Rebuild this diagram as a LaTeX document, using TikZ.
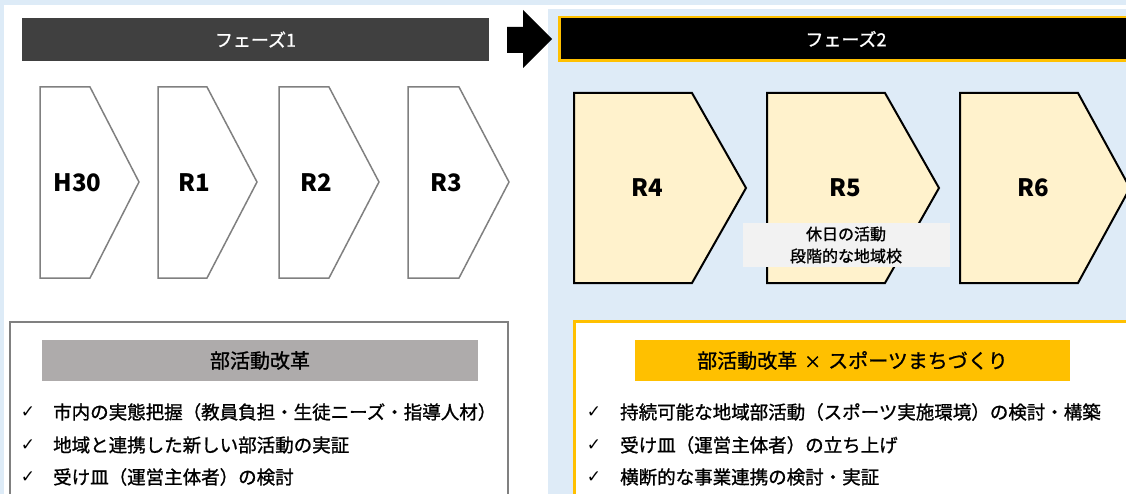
\documentclass[tikz,border=0pt]{standalone}
\usepackage{fontspec}
\setmainfont{Noto Sans CJK JP}
\newfontfamily\medfont[FakeBold=1.1]{Noto Sans CJK JP}
\newfontfamily\symfont{DejaVu Sans}
\definecolor{bgblue}{HTML}{DDEBF7}
\definecolor{panelblue}{HTML}{DEEBF7}
\definecolor{darkbar}{HTML}{404040}
\definecolor{gold}{HTML}{FFC000}
\definecolor{chevgray}{HTML}{808080}
\definecolor{cream}{HTML}{FFF2CC}
\definecolor{notegray}{HTML}{F2F2F2}
\definecolor{hdrgray}{HTML}{AEABAB}
\tikzset{
  phasebar/.style={text=white, inner sep=0pt, font=\medfont\fontsize{18}{18}\selectfont},
  chevL/.style={draw=chevgray, line width=1.5pt, fill=white, line join=miter},
  chevR/.style={draw=black, line width=2pt, fill=cream, line join=miter},
  yearlbl/.style={font=\bfseries\fontsize{24}{24}\selectfont, inner sep=0pt},
  notebox/.style={fill=notegray, inner sep=0pt, align=center, font=\medfont\fontsize{16}{22}\selectfont},
  hdr/.style={inner sep=0pt, font=\medfont\fontsize{20}{20}\selectfont},
  chk/.style={anchor=center, inner sep=0pt, font=\symfont\fontsize{17}{17}\selectfont},
  bul/.style={anchor=west, inner sep=0pt, font=\medfont\fontsize{18.5}{18.5}\selectfont}
}
\begin{document}
\begin{tikzpicture}[x=1pt,y=-1pt]
\useasboundingbox (0,0) rectangle (1126,494);
\begin{scope}
\clip (0,0) rectangle (1126,494);
% backgrounds
\fill[bgblue] (0,0) rectangle (1126,494);
\fill[white] (4,5) rectangle (1126,494);
\fill[panelblue] (548,9) rectangle (1126,494);
% phase bars
\node[phasebar, fill=darkbar, minimum width=467pt, minimum height=43pt] (ph1) at (255.5,39.5) {フェーズ1};
\draw[gold, line width=2.5pt, fill=black] (559.25,17.25) rectangle (1140,60.75);
\node[phasebar] (ph2) at (846,39) {フェーズ2};
% big arrow
\fill[black] (507,27) -- (523,27) -- (523,10) -- (552,39) -- (523,68) -- (523,53) -- (507,53) -- cycle;
% left chevrons
\draw[chevL] (40,87) -- (90,87) -- (139,182) -- (90,278) -- (40,278) -- cycle;
\draw[chevL] (158,87) -- (207,87) -- (257,182) -- (207,278) -- (158,278) -- cycle;
\draw[chevL] (279,87) -- (329,87) -- (379,182) -- (329,278) -- (279,278) -- cycle;
\draw[chevL] (408,87) -- (459,87) -- (509,182) -- (459,278) -- (408,278) -- cycle;
\node[yearlbl] (h30) at (77.5,183) {H30};
\node[yearlbl] (r1) at (194,183) {R1};
\node[yearlbl] (r2) at (316,183) {R2};
\node[yearlbl] (r3) at (446,183) {R3};
% right chevrons
\draw[chevR] (574,93) -- (692,93) -- (746,188) -- (692,283) -- (574,283) -- cycle;
\draw[chevR] (767,93) -- (885,93) -- (939,188) -- (885,283) -- (767,283) -- cycle;
\draw[chevR] (960,93) -- (1078,93) -- (1130,188) -- (1078,283) -- (960,283) -- cycle;
\node[yearlbl] (r4) at (647,188) {R4};
\node[yearlbl] (r5) at (845,188) {R5};
\node[yearlbl] (r6) at (1033,188) {R6};
\node[notebox, minimum width=207pt, minimum height=44pt] (note) at (846,245) {休日の活動\\段階的な地域校};
% bottom left box
\draw[chevgray, line width=2pt, fill=white] (10,322) rectangle (508,510);
\node[hdr, fill=hdrgray, minimum width=436pt, minimum height=41pt] (hl) at (260,360.5) {部活動改革};
\node[chk] (cl1) at (28,412) {✓};
\node[bul] (bl1) at (53,412) {市内の実態把握（教員負担・生徒ニーズ・指導人材）};
\node[chk] (cl2) at (28,445) {✓};
\node[bul] (bl2) at (53,445) {地域と連携した新しい部活動の実証};
\node[chk] (cl3) at (28,477) {✓};
\node[bul] (bl3) at (53,477) {受け皿（運営主体者）の検討};
% bottom right box
\draw[gold, line width=3pt, fill=white] (574.5,321.5) rectangle (1140,510);
\node[hdr, fill=gold, minimum width=435pt, minimum height=41pt] (hr) at (852.5,360.5) {部活動改革\hspace{7pt}{\fontsize{17}{17}\selectfont×}\hspace{7pt}スポーツまちづくり};
\node[chk] (cr1) at (594,412) {✓};
\node[bul] (br1) at (620,412) {持続可能な地域部活動（スポーツ実施環境）の検討・構築};
\node[chk] (cr2) at (594,445) {✓};
\node[bul] (br2) at (620,445) {受け皿（運営主体者）の立ち上げ};
\node[chk] (cr3) at (594,477) {✓};
\node[bul] (br3) at (620,477) {横断的な事業連携の検討・実証};
\end{scope}
\end{tikzpicture}
\end{document}
